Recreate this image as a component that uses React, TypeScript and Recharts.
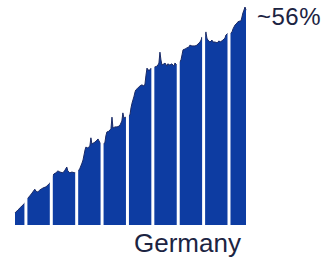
import { AreaChart, Area, XAxis, YAxis, ReferenceLine } from 'recharts';

// decimal year of each reading
const time = [
  2000.57, 2000.69, 2000.8, 2000.92, 2000.99,
  2001.04, 2001.12, 2001.24, 2001.35, 2001.39, 2001.47, 2001.55, 2001.67, 2001.79, 2001.87, 2001.95,
  2002.02, 2002.06, 2002.1, 2002.18, 2002.26, 2002.34, 2002.46, 2002.54, 2002.61, 2002.65, 2002.73, 2002.81, 2002.93, 2002.99,
  2003.03, 2003.09, 2003.13, 2003.21, 2003.25, 2003.33, 2003.36, 2003.44, 2003.52, 2003.56, 2003.6, 2003.72, 2003.8, 2003.84, 2003.88, 2003.92, 2003.98,
  2004.04, 2004.11, 2004.15, 2004.19, 2004.27, 2004.31, 2004.35, 2004.39, 2004.43, 2004.51, 2004.59, 2004.67, 2004.71, 2004.78, 2004.82, 2004.86, 2004.94, 2004.98,
  2005.04, 2005.1, 2005.14, 2005.18, 2005.26, 2005.3, 2005.33, 2005.41, 2005.49, 2005.57, 2005.65, 2005.69, 2005.73, 2005.77, 2005.81, 2005.89, 2005.93, 2005.99,
  2006.02, 2006.08, 2006.16, 2006.2, 2006.24, 2006.28, 2006.32, 2006.36, 2006.44, 2006.48, 2006.56, 2006.59, 2006.67, 2006.75, 2006.83, 2006.87, 2006.95, 2006.99,
  2007.03, 2007.11, 2007.15, 2007.19, 2007.27, 2007.34, 2007.42, 2007.46, 2007.54, 2007.66, 2007.74, 2007.82, 2007.86, 2007.9, 2007.94, 2007.98,
  2008.04, 2008.06, 2008.09, 2008.13, 2008.17, 2008.25, 2008.33, 2008.37, 2008.45, 2008.53, 2008.61, 2008.65, 2008.72, 2008.76, 2008.84, 2008.88, 2008.96,
  2009.04, 2009.12, 2009.16, 2009.24, 2009.32, 2009.35, 2009.43, 2009.47, 2009.51, 2009.55, 2009.59, 2009.63, 2009.67,
];

// share in percent
const share = [
  3.1, 3.9, 4.6, 5.4, 5.9,
  6.7, 7.2, 8.2, 9.2, 8.7, 8.5, 9.0, 9.5, 9.8, 10.3, 10.8,
  11.6, 12.6, 13.1, 13.4, 13.9, 13.6, 13.4, 14.1, 14.9, 13.9, 13.4, 13.6, 13.4, 13.6,
  13.9, 14.1, 14.6, 15.9, 16.7, 19.3, 20.0, 19.8, 20.3, 22.4, 20.8, 21.3, 21.8, 22.1, 21.6, 21.1, 20.8,
  20.8, 21.1, 22.9, 23.9, 24.1, 24.4, 24.7, 27.7, 24.9, 25.2, 25.2, 25.4, 25.7, 26.7, 28.8, 27.5, 27.7, 28.0,
  28.0, 28.3, 30.1, 31.3, 33.1, 34.2, 34.7, 35.2, 35.7, 36.0, 35.7, 36.2, 38.5, 40.3, 39.8, 39.8, 40.3, 39.8,
  40.3, 40.6, 40.8, 41.1, 41.6, 44.4, 42.4, 41.1, 41.4, 41.6, 40.8, 41.4, 41.1, 41.4, 40.8, 41.6, 41.1, 41.4,
  41.6, 42.4, 43.7, 45.0, 45.2, 45.5, 45.7, 46.2, 46.0, 46.0, 46.2, 46.8, 47.0, 47.5, 48.3, 47.0,
  47.3, 48.6, 49.6, 48.0, 47.5, 47.0, 47.5, 47.0, 47.0, 46.8, 47.3, 47.0, 47.3, 47.5, 48.0, 48.8, 49.3,
  49.1, 49.6, 50.4, 51.4, 51.9, 52.2, 52.4, 52.4, 53.4, 54.5, 55.2, 56.0, 55.2,
];

const yearMarks = [2001, 2002, 2003, 2004, 2005, 2006, 2007, 2008, 2009];

const endLabel = '~56%';
const countryLabel = 'Germany';

const data = time.map((t, i) => ({ t, share: share[i] }));

export default function App() {
  return (
    <div style={{ position: 'absolute', left: 0, top: 0, width: 327, height: 261, background: '#fff' }}>
      <AreaChart width={327} height={261} data={data} margin={{ top: 7, right: 81, left: 15, bottom: 36 }}>
        <XAxis dataKey="t" type="number" domain={[2000.57, 2009.67]} hide />
        <YAxis type="number" domain={[0, 56]} hide />
        <Area
          type="linear"
          dataKey="share"
          stroke="#1a2a66"
          strokeWidth={1}
          fill="#0d3ca2"
          fillOpacity={1}
          isAnimationActive={false}
        />
        {yearMarks.map((y) => (
          <ReferenceLine key={y} x={y} stroke="#fff" strokeWidth={3} />
        ))}
      </AreaChart>
      <div
        style={{
          position: 'absolute',
          left: 257,
          top: 5,
          fontFamily: '"Liberation Sans", Arial, sans-serif',
          fontSize: 24,
          lineHeight: '24px',
          letterSpacing: 0.5,
          color: '#1c2442',
          whiteSpace: 'nowrap',
        }}
      >
        {endLabel}
      </div>
      <div
        style={{
          position: 'absolute',
          left: 134,
          top: 230,
          fontFamily: '"Liberation Sans", Arial, sans-serif',
          fontSize: 26,
          lineHeight: '26px',
          color: '#1c2442',
          whiteSpace: 'nowrap',
        }}
      >
        {countryLabel}
      </div>
    </div>
  );
}
